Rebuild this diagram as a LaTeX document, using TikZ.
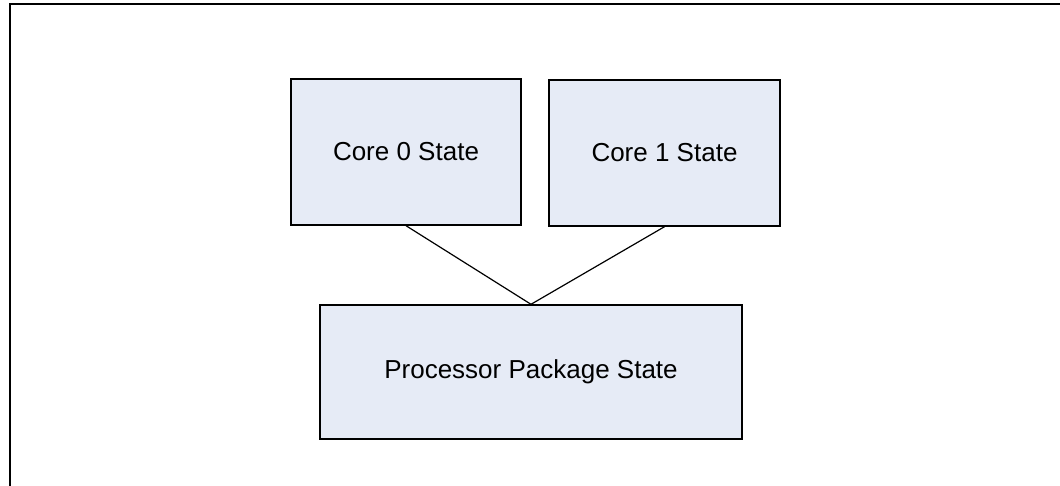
\documentclass[tikz,border=0pt]{standalone}
\usepackage{fontspec}
\setmainfont{Liberation Sans}
\definecolor{boxfill}{RGB}{230,235,246}
\begin{document}
\begin{tikzpicture}[x=1pt,y=-1pt,
  statebox/.style={draw=black, line width=1.4pt, fill=boxfill, inner sep=0pt,
    font=\fontsize{26}{30}\selectfont},
  link/.style={draw=black, line width=1.2pt}]
  \useasboundingbox (0,0) rectangle (1060,486);
  % page frame (continues past the right and bottom edges)
  \draw[line width=2pt] (10,490) -- (10,4) -- (1064,4);
  % state boxes
  \node[statebox, minimum width=230pt, minimum height=146pt] (core0) at (406,152) {Core 0 State};
  \node[statebox, minimum width=231pt, minimum height=146pt] (core1) at (664.5,153) {Core 1 State};
  \node[statebox, minimum width=422pt, minimum height=134pt] (pkg) at (531,372) {Processor Package State};
  % connectors
  \draw[link] (core0.south) -- (pkg.north);
  \draw[link] (core1.south) -- (pkg.north);
\end{tikzpicture}
\end{document}
